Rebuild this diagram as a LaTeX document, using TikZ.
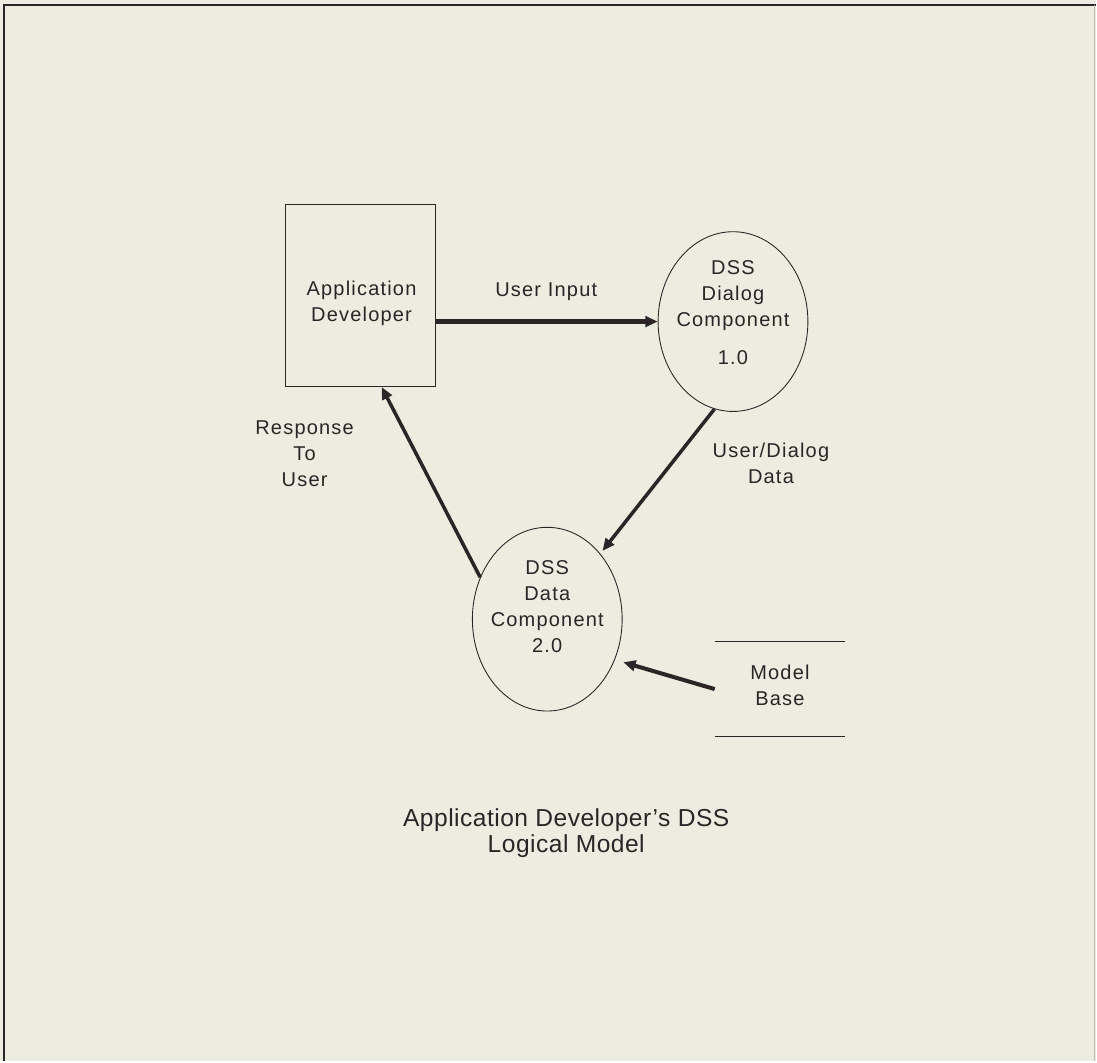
\documentclass[tikz,border=0pt]{standalone}
\usepackage{fontspec}
\setmainfont{Liberation Sans}[LetterSpace=6]
\usepackage{tikz}
\usetikzlibrary{arrows.meta,positioning,shapes.geometric,calc}
\definecolor{paper}{HTML}{ECECE0}
\definecolor{ink}{HTML}{2B2527}
\definecolor{rim}{HTML}{BDBCB3}
\tikzset{
  entity/.style={draw=ink,line width=0.6pt,minimum width=3cm,minimum height=3.64cm,inner sep=0pt},
  proc/.style={draw=ink,ellipse,line width=0.5pt,minimum width=3cm,minimum height=3.6cm,inner sep=0pt},
  store/.style={minimum width=2.6cm,minimum height=1.88cm,inner sep=0pt},
  txt/.style={align=center,text=ink,font=\fontsize{11.4}{14.8}\selectfont},
  flow/.style={-{Triangle[length=7pt,width=6pt]},line width=2pt,ink}
}

\begin{document}
\begin{tikzpicture}[x=0.02cm,y=-0.02cm]
  % page and frame
  \fill[paper] (0,0) rectangle (1097,1062);
  \draw[ink,line width=1.7pt] (4,1062) -- (4,5) -- (1097,5);
  \draw[rim,line width=0.5pt] (1096,5) -- (1096,1062);

  % external entity, processes, store
  \node[entity] (appdev) at (361,296) {};
  \node[txt] (appdevlbl) at (362,304) {Application\\Developer};
  \node[proc] (dialog) at (734,322) {};
  \node[txt] (dialoglbl) at (734,313) {DSS\\Dialog\\Component\\[7pt]1.0};
  \node[proc,minimum height=3.68cm] (data) at (548,620) {};
  \node[txt] (datalbl) at (548,607) {DSS\\Data\\Component\\2.0};
  \node[store] (modelbase) at (781,690) {};
  \node[txt] (modelbaselbl) at (781,686) {Model\\Base};
  \draw[ink,line width=0.6pt] (modelbase.north west) -- (modelbase.north east)
    (modelbase.south west) -- (modelbase.south east);

  % flows
  \draw[flow,line width=2.6pt] (appdev.east |- dialog.west) -- (dialog.west);
  \draw[flow,shorten >=2pt] (dialog.258) -- (data.51);
  \draw[flow] (data.148) -- (appdev.-77);
  \draw[flow,line width=2.3pt,shorten >=5pt] (modelbase.west) -- (data.-31);

  % flow labels
  \node[txt] (inputlbl) at (547,292) {User Input};
  \node[txt] (dialogdatalbl) at (772,464) {User/Dialog\\Data};
  \node[txt] (responselbl) at (305,454) {Response\\To\\User};

  % caption
  \node[txt,font=\fontsize{14}{14.8}\selectfont\addfontfeature{LetterSpace=2}] (title) at (567,834)
    {Application Developer's DSS\\Logical Model};
\end{tikzpicture}
\end{document}
